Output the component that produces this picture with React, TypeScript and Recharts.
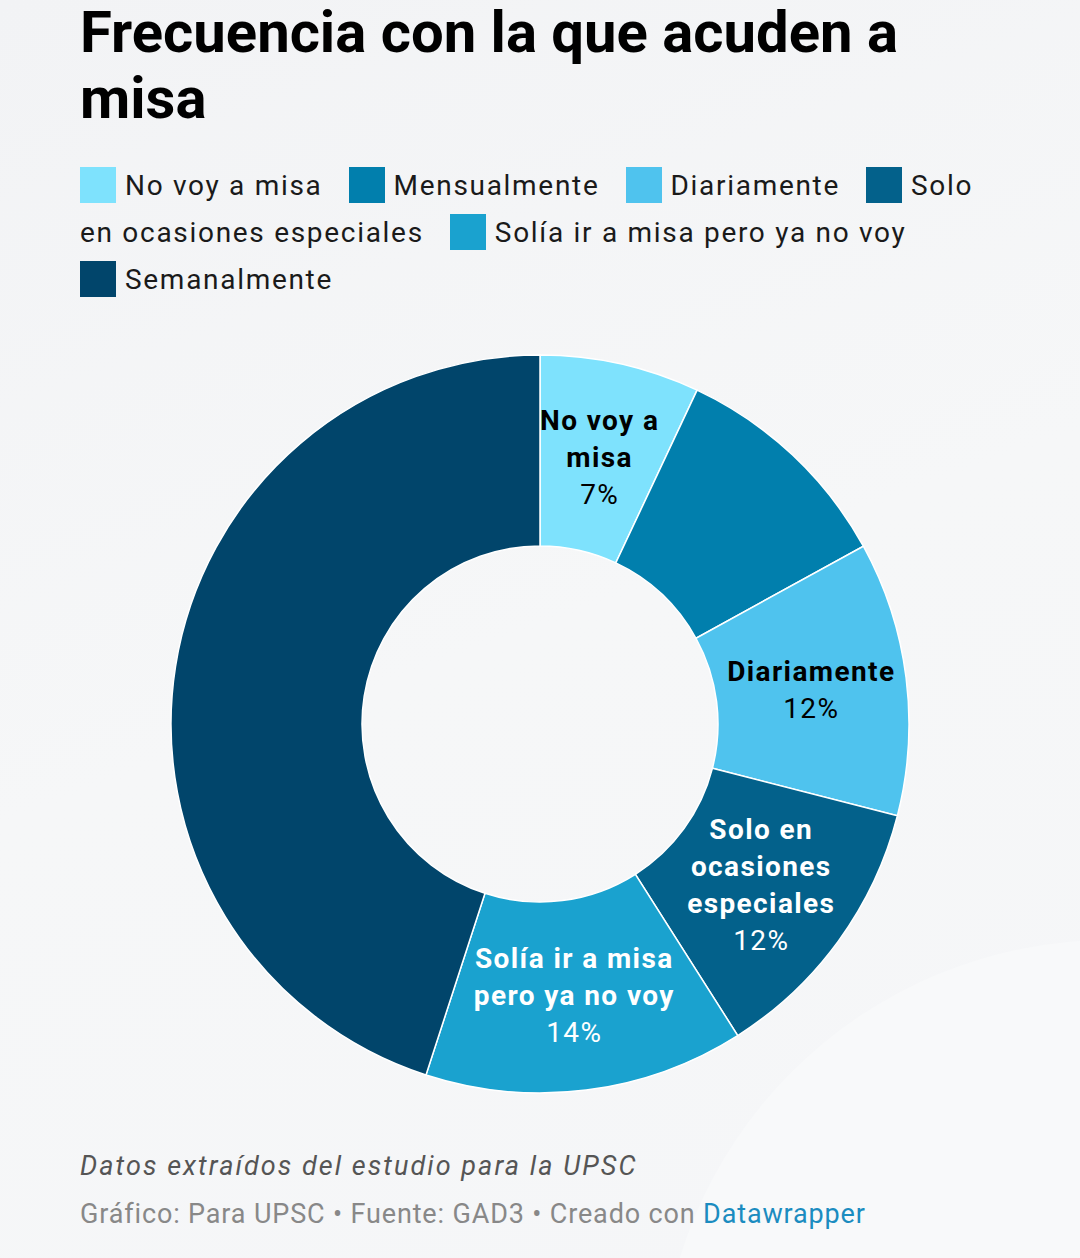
import React from 'react';
import { PieChart, Pie, Cell } from 'recharts';

const categories = [
  'No voy a misa',
  'Mensualmente',
  'Diariamente',
  'Solo en ocasiones especiales',
  'Solía ir a misa pero ya no voy',
  'Semanalmente',
];
const shares = [7, 10, 12, 12, 14, 45];
// label lines as they wrap inside each slice; empty = no label drawn
const sliceLabelLines = [
  ['No voy a', 'misa'],
  [],
  ['Diariamente'],
  ['Solo en', 'ocasiones', 'especiales'],
  ['Solía ir a misa', 'pero ya no voy'],
  [],
];

const colors = ['#7ee2fd', '#017fad', '#4fc3ee', '#03618b', '#1aa2cf', '#01456b'];
const darkText = [true, false, true, false, false, false];

const chartData = categories.map((name, i) => ({ name, value: shares[i] }));

const FONT = 'Roboto, "Noto Sans", sans-serif';
const RADIAN = Math.PI / 180;
const LINE = 37;

const renderLabel = (props: any) => {
  const { cx, cy, midAngle, innerRadius, outerRadius, index, value } = props;
  const lines = sliceLabelLines[index];
  if (!lines || lines.length === 0) return null;
  const r = (innerRadius + outerRadius) / 2;
  const x = cx + r * Math.cos(-midAngle * RADIAN);
  const y = cy + r * Math.sin(-midAngle * RADIAN);
  const all = [...lines, `${value}%`];
  const top = y - ((all.length - 1) * LINE) / 2;
  const fill = darkText[index] ? '#000' : '#fff';
  return (
    <text
      x={x}
      y={top}
      textAnchor="middle"
      dominantBaseline="central"
      fill={fill}
      style={{ fontFamily: FONT, fontSize: 28, letterSpacing: 1.4 }}
    >
      {all.map((t, k) => (
        <tspan key={k} x={x} y={top + k * LINE} fontWeight={k < lines.length ? 700 : 400}>
          {t}
        </tspan>
      ))}
    </text>
  );
};

// swatch sticks to the first word, the rest of the name may wrap
const LegendItem = ({ name, color }: { name: string; color: string }) => {
  const [first, ...rest] = name.split(' ');
  return (
    <span style={{ marginRight: 26 }}>
      <span style={{ whiteSpace: 'nowrap' }}>
        <span
          style={{
            display: 'inline-block',
            width: 36,
            height: 36,
            background: color,
            verticalAlign: -8,
            marginRight: 9,
          }}
        />
        {first}
      </span>
      {rest.length ? ' ' + rest.join(' ') : ''}
    </span>
  );
};

export default function App() {
  return (
    <div
      style={{
        position: 'relative',
        width: 1080,
        height: 1258,
        overflow: 'hidden',
        fontFamily: FONT,
        background: 'linear-gradient(160deg, #f2f3f5 0%, #f6f7f8 50%, #f5f6f8 100%)',
      }}
    >
      <style>{'body{margin:0}'}</style>
      <div
        style={{
          position: 'absolute',
          left: 660,
          top: 940,
          width: 900,
          height: 900,
          borderRadius: '50%',
          background: '#f8f9fa',
        }}
      />
      <div
        style={{
          position: 'absolute',
          left: 80,
          top: 2,
          width: 920,
          fontSize: 58,
          fontWeight: 700,
          lineHeight: '66px',
          color: '#000',
        }}
      >
        <div style={{ marginTop: -3 }}>Frecuencia con la que acuden a misa</div>
      </div>

      <div
        style={{
          position: 'absolute',
          left: 80,
          top: 162,
          width: 930,
          fontSize: 28,
          lineHeight: '47px',
          letterSpacing: 1.7,
          color: '#1a1a1a',
        }}
      >
        {categories.map((c, i) => (
          <LegendItem key={c} name={c} color={colors[i]} />
        ))}
      </div>

      <div style={{ position: 'absolute', left: 0, top: 324 }}>
        <PieChart width={1080} height={800} margin={{ top: 0, right: 0, bottom: 0, left: 0 }}>
          <Pie
            data={chartData}
            dataKey="value"
            nameKey="name"
            cx={540}
            cy={400}
            innerRadius={178}
            outerRadius={369}
            startAngle={90}
            endAngle={-270}
            stroke="#ffffff"
            strokeWidth={1.5}
            label={renderLabel}
            labelLine={false}
            isAnimationActive={false}
          >
            {chartData.map((d, i) => (
              <Cell key={d.name} fill={colors[i]} />
            ))}
          </Pie>
        </PieChart>
      </div>

      <div
        style={{
          position: 'absolute',
          left: 80,
          top: 1150,
          fontSize: 27,
          fontStyle: 'italic',
          letterSpacing: 2.05,
          color: '#555',
        }}
      >
        Datos extraídos del estudio para la UPSC
      </div>
      <div
        style={{
          position: 'absolute',
          left: 80,
          top: 1198,
          fontSize: 27,
          letterSpacing: 0.85,
          color: '#888',
        }}
      >
        Gráfico: Para UPSC • Fuente: GAD3 • Creado con{' '}
        <span style={{ color: '#1b8cc0' }}>Datawrapper</span>
      </div>
    </div>
  );
}
